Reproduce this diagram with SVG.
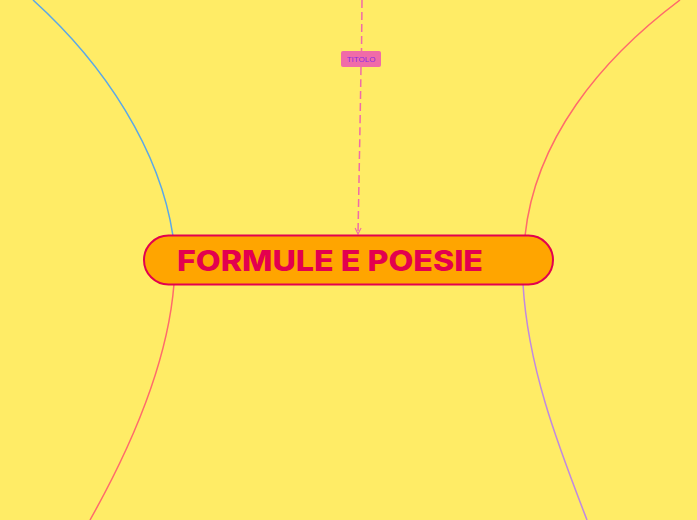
<svg xmlns="http://www.w3.org/2000/svg" width="697" height="520" viewBox="0 0 697 520">
<style>
.conn{fill:none;stroke-width:1.5}
.main{font-family:Inter,"Noto Sans",sans-serif;font-weight:800;font-size:28px;fill:#E3004F}
.sub{font-family:"Liberation Sans",Arial,sans-serif;font-size:8px;fill:#8A2BE2}
</style>
<defs>
<marker id="arr" viewBox="0 0 10 10" refX="9" refY="5" markerWidth="5" markerHeight="5" orient="auto">
<path d="M1,1 L9,5 L1,9" fill="none" stroke="#F06BA8" stroke-width="1.5"/>
</marker>
</defs>
<rect width="697" height="520" fill="#FFEC66"/>
<g id="connectors">
<path class="conn" stroke="#5BA8E8" d="M33,0 C105,65 160,150 173,236"/>
<path class="conn" stroke="#FF6B6B" d="M680,0 C600,60 535,140 525,236"/>
<path class="conn" stroke="#FF6B6B" d="M174,284 C168,360 135,440 90,520"/>
<path class="conn" stroke="#C08AE0" d="M523,284 C528,370 560,450 587,520"/>
<path class="conn" stroke="#F06BA8" stroke-dasharray="8,4" d="M362,0 L361.5,51"/>
<path class="conn" stroke="#F06BA8" stroke-dasharray="8,4" d="M361,67 C360,130 359,180 358,234" marker-end="url(#arr)"/>
</g>
<g id="node-titolo">
<rect x="341" y="51" width="40" height="16" rx="2" fill="#F06BA8"/>
<text class="sub" x="361" y="62" text-anchor="middle">TITOLO</text>
</g>
<g id="node-main">
<rect x="144" y="235.5" width="409" height="49" rx="24.5" fill="#FFA500" stroke="#E3004F" stroke-width="2"/>
<text class="main" x="177" y="271" textLength="306" lengthAdjust="spacingAndGlyphs">FORMULE E POESIE</text>
</g>
</svg>
